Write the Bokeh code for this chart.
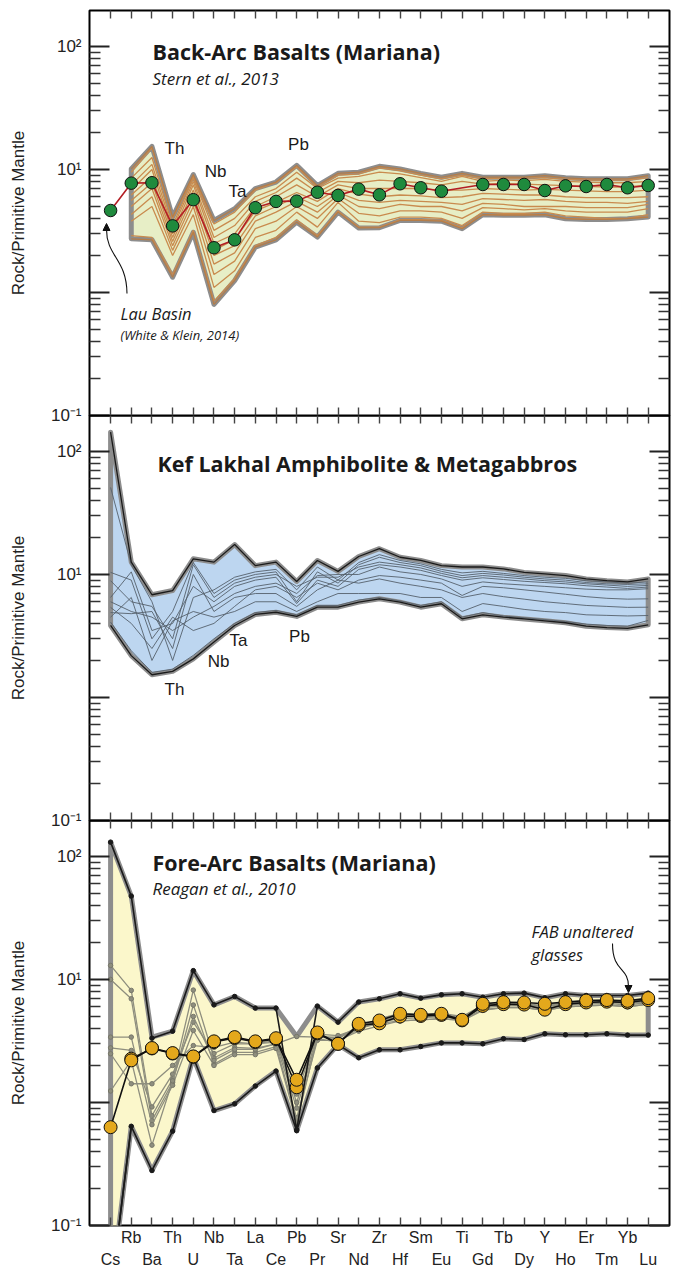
import math
from bokeh.plotting import figure
from bokeh.models import Range1d, LogAxis, LinearAxis, FixedTicker, Label, Arrow, NormalHead
from bokeh.layouts import column
from bokeh.embed import file_html
from bokeh.resources import INLINE

# ---------------- data ----------------
elements = ["Cs", "Rb", "Ba", "Th", "U", "Nb", "Ta", "La", "Ce", "Pb", "Pr", "Sr", "Nd", "Zr",
            "Hf", "Sm", "Eu", "Ti", "Gd", "Tb", "Dy", "Y", "Ho", "Er", "Tm", "Yb", "Lu"]
idx = list(range(len(elements)))

# Panel 1: Back-arc basalts (Mariana), Stern et al. 2013
bab_upper = [None, 10.1, 15.4, 4.1, 9.1, 3.85, 4.8, 7.0, 7.9, 10.8, 7.4, 9.3, 9.5, 10.6, 10.1, 9.3,
             8.65, 9.3, 8.65, 8.65, 8.65, 8.9, 8.55, 8.4, 8.4, 8.4, 8.9]
bab_lower = [None, 2.73, 2.68, 1.33, 3.09, 0.80, 1.25, 2.34, 2.68, 3.73, 2.82, 4.5, 3.35, 3.36, 3.85,
             3.85, 3.8, 3.3, 4.29, 4.25, 4.25, 4.29, 3.98, 3.92, 3.92, 3.98, 4.1]
bab_samples = [
    [None, 9.5, 15.0, 4.0, 8.8, 3.6, 4.5, 6.8, 7.8, 10.5, 7.2, 9.0, 9.2, 10.3, 9.8, 9.0, 8.4, 9.0, 8.4, 8.5, 8.5, 8.6, 8.3, 8.2, 8.2, 8.2, 8.6],
    [None, 8.5, 12.5, 3.5, 8.5, 3.2, 4.0, 6.0, 7.0, 9.5, 7.0, 8.5, 8.8, 9.5, 9.2, 8.6, 8.0, 8.8, 8.0, 8.2, 8.1, 8.3, 8.0, 7.9, 7.8, 7.8, 8.0],
    [None, 7.5, 11.0, 3.3, 8.0, 2.8, 3.5, 5.5, 6.5, 8.5, 6.5, 8.0, 7.8, 8.2, 8.0, 7.8, 7.5, 8.0, 7.6, 7.7, 7.6, 7.5, 7.4, 7.3, 7.2, 7.2, 7.5],
    [None, 6.8, 10.0, 3.0, 7.5, 2.5, 3.0, 5.0, 6.0, 7.5, 6.0, 7.5, 7.0, 7.0, 7.0, 7.0, 6.8, 6.8, 7.0, 6.9, 6.8, 6.9, 6.8, 6.7, 6.6, 6.6, 6.8],
    [None, 6.2, 8.8, 2.8, 6.8, 2.2, 2.7, 4.6, 5.4, 6.5, 5.5, 7.0, 6.3, 6.0, 6.2, 6.1, 5.9, 6.0, 6.4, 6.3, 6.2, 6.2, 6.0, 5.9, 5.9, 5.9, 6.0],
    [None, 5.6, 7.8, 2.6, 6.2, 2.0, 2.4, 4.2, 5.0, 6.0, 5.0, 6.5, 5.6, 5.4, 5.6, 5.5, 5.4, 5.2, 5.8, 5.7, 5.6, 5.7, 5.5, 5.4, 5.4, 5.3, 5.5],
    [None, 5.0, 7.0, 2.4, 5.6, 1.7, 2.1, 3.8, 4.5, 5.5, 4.5, 6.2, 5.0, 4.8, 5.2, 5.0, 5.0, 4.6, 5.3, 5.2, 5.0, 5.0, 5.0, 4.9, 4.9, 4.9, 5.2],
    [None, 4.3, 6.0, 2.2, 5.0, 1.4, 1.8, 3.3, 3.8, 5.0, 4.0, 5.8, 4.4, 4.2, 4.6, 4.6, 4.5, 4.0, 4.9, 4.8, 4.7, 4.8, 4.6, 4.5, 4.5, 4.5, 4.8],
    [None, 3.8, 5.0, 2.0, 4.3, 1.1, 1.5, 2.8, 3.2, 4.5, 3.4, 5.4, 3.8, 3.7, 4.1, 4.1, 4.0, 3.5, 4.5, 4.4, 4.4, 4.5, 4.2, 4.1, 4.0, 4.0, 4.3],
    [None, 2.9, 2.8, 1.4, 3.2, 0.85, 1.3, 2.4, 2.8, 3.9, 2.9, 4.6, 3.4, 3.4, 3.9, 3.9, 3.85, 3.35, 4.3, 4.3, 4.3, 4.3, 4.0, 3.95, 3.95, 4.0, 4.1],
]
# Lau Basin (White & Klein, 2014) - no Ti value
lau_basin = [4.64, 7.74, 7.8, 3.48, 5.68, 2.31, 2.68, 4.89, 5.5, 5.53, 6.53, 6.15, 6.92, 6.22, 7.65,
             7.1, 6.66, None, 7.55, 7.55, 7.55, 6.74, 7.36, 7.27, 7.55, 7.1, 7.41]

# Panel 2: Kef Lakhal amphibolite & metagabbros
kl_upper = [143.5, 12.6, 6.84, 7.4, 13.4, 12.6, 17.5, 11.8, 12.6, 8.77, 13.0, 10.6, 14.0, 16.2, 13.8,
            13.0, 11.8, 11.5, 11.5, 11.1, 10.4, 10.1, 9.8, 9.2, 8.9, 8.7, 9.2]
kl_lower = [3.85, 2.19, 1.53, 1.63, 2.06, 2.82, 3.85, 4.73, 4.93, 4.56, 5.42, 5.42, 5.96, 6.34, 5.96,
            5.42, 5.78, 4.36, 4.7, 4.5, 4.35, 4.2, 4.05, 3.8, 3.7, 3.65, 3.9]
kl_samples = [
    [51.0, 12.0, 6.0, 2.0, 6.5, 7.5, 9.5, 10.5, 11.0, 7.5, 11.5, 9.0, 12.5, 14.5, 13.0, 12.2, 11.0, 10.3, 10.6, 10.2, 9.8, 9.5, 9.3, 8.9, 8.7, 8.5, 8.7],
    [10.4, 9.0, 3.0, 5.0, 12.5, 7.0, 9.0, 10.0, 10.5, 6.0, 10.5, 8.5, 12.0, 13.8, 12.5, 11.8, 10.6, 9.8, 10.2, 9.9, 9.5, 9.2, 9.0, 8.6, 8.4, 8.3, 8.4],
    [8.9, 6.0, 5.5, 3.0, 12.0, 6.5, 8.5, 9.5, 10.0, 8.0, 9.5, 9.5, 11.5, 12.6, 12.0, 11.3, 10.2, 9.4, 9.8, 9.5, 9.2, 8.9, 8.7, 8.4, 8.2, 8.0, 8.15],
    [6.5, 10.5, 3.5, 4.0, 8.0, 6.0, 8.0, 9.0, 9.5, 5.8, 9.0, 8.0, 11.0, 12.0, 11.5, 10.8, 9.8, 9.0, 9.4, 9.1, 8.8, 8.6, 8.4, 8.1, 7.9, 7.7, 7.9],
    [6.0, 5.0, 4.5, 3.5, 4.5, 5.5, 7.0, 8.0, 8.5, 7.0, 9.8, 10.0, 10.0, 11.5, 10.5, 10.0, 9.2, 8.0, 8.7, 8.4, 8.2, 8.0, 7.8, 7.6, 7.5, 7.5, 7.66],
    [5.4, 4.0, 2.5, 4.5, 3.5, 4.0, 5.5, 7.5, 8.0, 6.5, 8.5, 7.5, 9.0, 9.8, 9.5, 9.0, 8.5, 6.75, 8.0, 7.8, 7.5, 7.2, 6.9, 6.6, 6.4, 6.3, 6.34],
    [4.9, 4.8, 5.0, 2.5, 10.0, 5.0, 6.5, 7.0, 7.0, 5.5, 7.5, 9.0, 8.5, 9.2, 8.5, 8.0, 7.5, 6.5, 7.0, 6.6, 6.3, 6.0, 5.8, 5.6, 5.5, 5.4, 5.42],
    [4.5, 6.5, 2.0, 4.2, 5.0, 4.5, 5.0, 6.0, 6.0, 5.0, 6.0, 7.0, 7.0, 7.0, 7.0, 6.5, 6.5, 5.0, 5.8, 5.5, 5.2, 5.0, 4.9, 4.7, 4.65, 4.6, 4.64],
    [4.1, 2.4, 1.6, 1.7, 2.2, 3.0, 4.0, 4.9, 5.1, 4.7, 5.6, 5.6, 6.2, 6.5, 6.1, 5.6, 6.0, 4.5, 4.9, 4.6, 4.45, 4.3, 4.15, 3.95, 3.85, 3.8, 4.23],
]

# Panel 3: Fore-arc basalts (Mariana), Reagan et al. 2010
fab_upper = [130.7, 47.6, 3.4, 3.8, 11.8, 6.22, 7.27, 5.85, 5.85, 3.44, 6.07, 4.5, 6.55, 6.97, 7.65,
             7.05, 7.5, 7.65, 7.18, 7.65, 7.74, 7.1, 7.65, 7.41, 7.41, 7.41, 7.74]
fab_lower = [0.028, 0.64, 0.28, 0.585, 2.33, 0.86, 0.975, 1.36, 1.8, 0.59, 1.91, 2.95, 2.31, 2.68, 2.68,
             2.85, 3.05, 3.05, 3.0, 3.3, 3.25, 3.62, 3.55, 3.55, 3.62, 3.53, 3.53]
fab_high_sample = [130.7, 47.6, 3.33, 3.8, 11.8, 6.22, 7.27, 5.85, 5.85, 0.6, 6.07, 4.5, 6.55, 6.97, 7.65,
                   7.05, 7.5, 7.65, 7.18, 7.65, 7.74, 7.1, 7.65, 7.41, 7.41, 7.41, 7.74]
fab_low_sample = fab_lower
fab_samples = [
    [13.0, 8.15, 0.78, 1.55, 8.2, 2.3, 2.8, 2.75, 3.0, 0.9, 3.3, 3.1, 4.0, 4.5, 4.8, 4.9, 5.0, 4.8, 5.9, 6.1, 6.1, 5.8, 6.2, 6.3, 6.4, 6.2, 6.5],
    [10.0, 6.97, 0.71, 1.46, 6.2, 2.05, 2.55, 2.55, 2.85, 0.75, 3.2, 3.2, 3.8, 4.2, 4.6, 4.7, 4.8, 4.7, 5.7, 5.9, 5.9, 5.6, 6.0, 6.1, 6.2, 6.0, 6.3],
    [3.4, 3.4, 0.66, 1.38, 3.85, 2.0, 2.45, 2.45, 2.75, 0.68, 3.4, 3.4, 4.1, 4.8, 5.3, 5.2, 5.3, 5.0, 6.2, 6.4, 6.4, 6.1, 6.5, 6.6, 6.7, 6.6, 6.9],
    [2.78, 2.65, 0.92, 1.7, 4.5, 2.5, 3.0, 3.0, 3.2, 1.0, 3.5, 3.3, 4.2, 4.6, 5.0, 5.0, 5.0, 4.8, 6.0, 6.2, 6.2, 6.0, 6.3, 6.4, 6.5, 6.4, 6.6],
    [2.49, 1.42, 1.42, 2.0, 2.9, 2.8, 3.1, 3.0, 3.1, 1.17, 3.6, 3.5, 4.0, 4.4, 4.6, 4.7, 4.8, 4.6, 5.6, 5.9, 5.9, 5.6, 6.0, 6.1, 6.2, 6.0, 6.3],
    [1.24, 2.2, 0.45, 1.5, 5.0, 2.2, 2.7, 2.7, 3.0, 3.44, 3.4, 3.3, 4.1, 4.7, 5.1, 5.1, 5.2, 4.9, 6.1, 6.3, 6.3, 6.0, 6.4, 6.5, 6.6, 6.5, 6.8],
]
fab_glass_a = [0.63, 2.2, 2.77, 2.52, 2.37, 3.14, 3.4, 3.14, 3.33, 1.53, 3.71, 3.0, 4.36, 4.64, 5.26,
               5.16, 5.26, 4.7, 6.34, 6.54, 6.5, 6.34, 6.54, 6.74, 6.8, 6.7, 7.05]
fab_glass_b = [None, 2.27, 2.75, 2.5, 2.35, 3.1, 3.35, 3.1, 3.28, 1.33, 3.65, 3.0, 4.25, 4.4, 5.0,
               5.05, 5.15, 4.65, 6.1, 6.3, 6.25, 5.68, 6.3, 6.5, 6.6, 6.5, 6.8]

y_tick_values = [0.1, 1, 10, 100]
y_tick_labels = ["10\u207b\u00b9", "", "10\u00b9", "10\u00b2"]

# ---------------- layout constants ----------------
Y_LO, Y_HI = 0.1, 196.0
X_LO, X_HI = -1.02, 27.03
FRAME_H = 405
LEFT = 89
FRAME_W = 580
W = LEFT + FRAME_W + 3
DEC = FRAME_H / (math.log10(Y_HI) - math.log10(Y_LO))
XSTEP = FRAME_W / (X_HI - X_LO)
MINORS = [m * 10 ** e for e in (-1, 0, 1, 2) for m in range(2, 10) if m * 10 ** e < Y_HI]
LABEL_FONT = "Liberation Sans"
TITLE_FONT = "Open Sans"


def px_x(px):
    return X_LO + (px - LEFT) / XSTEP


def px_y(py, top):
    return 10 ** (math.log10(Y_HI) - (py - top) / DEC)


def pts(vals):
    xs, ys = [], []
    for i, v in zip(idx, vals):
        if v is not None:
            xs.append(i)
            ys.append(v)
    return xs, ys


def band(p, upper, lower, fill):
    xu, yu = pts(upper)
    xl, yl = pts(lower)
    p.patch(xu + xl[::-1], yu + yl[::-1], fill_color=fill, line_color="#8d8d8d",
            line_width=5, line_join="round")


def make_panel(height, border_top, border_bottom, margin_top, xlabels=False):
    p = figure(width=W, height=height, x_range=Range1d(X_LO, X_HI), y_range=Range1d(Y_LO, Y_HI),
               y_axis_type="log", x_axis_location=None, y_axis_location=None,
               output_backend="svg", toolbar_location=None,
               min_border_left=LEFT, min_border_right=3, min_border_top=border_top,
               min_border_bottom=border_bottom, background_fill_alpha=0, border_fill_alpha=0,
               outline_line_color="black", outline_line_width=2, margin=(margin_top, 0, 0, 0))
    p.grid.visible = False
    yt = FixedTicker(ticks=y_tick_values, minor_ticks=MINORS)
    left = LogAxis(ticker=yt, axis_label="Rock/Primitive Mantle",
                   major_label_overrides=dict(zip(y_tick_values, y_tick_labels)),
                   major_tick_in=20, major_tick_out=0, minor_tick_in=11, minor_tick_out=0,
                   major_tick_line_width=2, minor_tick_line_width=1.3,
                   major_tick_line_color="#222", minor_tick_line_color="#333",
                   axis_line_color=None, major_label_standoff=8,
                   major_label_text_font=LABEL_FONT, major_label_text_font_size="17px",
                   major_label_text_color="#222",
                   axis_label_text_font=LABEL_FONT, axis_label_text_font_size="17px",
                   axis_label_text_font_style="normal", axis_label_text_color="#222",
                   axis_label_standoff=20)
    p.add_layout(left, "left")
    right = LogAxis(ticker=FixedTicker(ticks=y_tick_values, minor_ticks=MINORS),
                    major_label_overrides={v: "" for v in y_tick_values},
                    major_tick_in=20, major_tick_out=0, minor_tick_in=11, minor_tick_out=0,
                    major_tick_line_width=2, minor_tick_line_width=1.3,
                    major_tick_line_color="#222", minor_tick_line_color="#333",
                    axis_line_color=None, major_label_standoff=0,
                    major_label_text_font_size="0px")
    p.add_layout(right, "right")
    top = LinearAxis(ticker=FixedTicker(ticks=idx), major_tick_in=8, major_tick_out=0,
                     minor_tick_line_color=None,
                     major_tick_line_color="#444", major_tick_line_width=1.4,
                     axis_line_color=None, major_label_standoff=0,
                     major_label_overrides={i: "" for i in idx}, major_label_text_font_size="0px")
    p.add_layout(top, "above")
    if xlabels:
        row1 = LinearAxis(ticker=FixedTicker(ticks=idx), major_tick_in=8, major_tick_out=0,
                          minor_tick_line_color=None, major_tick_line_color="#444",
                          major_tick_line_width=1.4, axis_line_color=None, major_label_standoff=3,
                          major_label_overrides={i: (e if i % 2 == 1 else "") for i, e in zip(idx, elements)},
                          major_label_text_font=LABEL_FONT, major_label_text_font_size="16px",
                          major_label_text_color="#222")
        p.add_layout(row1, "below")
        row2 = LinearAxis(ticker=FixedTicker(ticks=idx), major_tick_in=0, major_tick_out=0,
                          minor_tick_line_color=None, major_tick_line_color=None,
                          axis_line_color=None, major_label_standoff=2,
                          major_label_overrides={i: (e if i % 2 == 0 else "") for i, e in zip(idx, elements)},
                          major_label_text_font=LABEL_FONT, major_label_text_font_size="16px",
                          major_label_text_color="#222")
        p.add_layout(row2, "below")
    else:
        bottom = LinearAxis(ticker=FixedTicker(ticks=idx), major_tick_in=8, major_tick_out=0,
                            minor_tick_line_color=None, major_tick_line_color="#444",
                            major_tick_line_width=1.4, axis_line_color=None, major_label_standoff=0,
                            major_label_overrides={i: "" for i in idx},
                            major_label_text_font_size="0px")
        p.add_layout(bottom, "below")
    return p


def text(p, s, x, y, size, style="normal", font=LABEL_FONT, align="left"):
    p.add_layout(Label(x=x, y=y, text=s, text_font=font, text_font_size=size,
                       text_font_style=style, text_color="#1a1a1a", text_align=align,
                       text_baseline="middle"))


# ---------------- panel 1 ----------------
T1, T2, T3 = 10, 415, 820
p1 = make_panel(FRAME_H + 10 + 10, 10, 10, 0)
band(p1, bab_upper, bab_lower, "#e7eec6")
for s in bab_samples:
    x, y = pts(s)
    p1.line(x, y, line_color="#c98b4e", line_width=1.3)
for edge in (bab_upper, bab_lower):
    x, y = pts(edge)
    p1.line(x, y, line_color="#b57d48", line_width=1.2)
x, y = pts(lau_basin)
p1.line(x, y, line_color="#b31e24", line_width=1.6)
p1.scatter(x, y, size=12.5, fill_color="#1f8a3d", line_color="#111", line_width=1)

text(p1, "Back-Arc Basalts (Mariana)", px_x(152), px_y(51, T1), "21.5px", "bold", TITLE_FONT)
text(p1, "Stern et al., 2013", px_x(152), px_y(78, T1), "17px", "italic", TITLE_FONT)
for s, cx, cy in (("Th", 174, 148), ("Nb", 215, 171), ("Ta", 237, 191), ("Pb", 298, 144)):
    text(p1, s, px_x(cx), px_y(cy, T1), "17px", align="center")
text(p1, "Lau Basin", px_x(120), px_y(313, T1), "16.5px", "italic", TITLE_FONT)
text(p1, "(White & Klein, 2014)", px_x(120), px_y(334, T1), "13px", "italic", TITLE_FONT)
p1.bezier(x0=[px_x(126.5)], y0=[px_y(293, T1)], x1=[px_x(106)], y1=[px_y(229, T1)],
          cx0=[px_x(126)], cy0=[px_y(258, T1)], cx1=[px_x(106)], cy1=[px_y(256, T1)],
          line_color="#111", line_width=1.1)
p1.add_layout(Arrow(end=NormalHead(size=7, fill_color="#111", line_color="#111"),
                    x_start=px_x(106), y_start=px_y(232, T1), x_end=px_x(106), y_end=px_y(223, T1),
                    line_color=None))

# ---------------- panel 2 ----------------
p2 = make_panel(FRAME_H + 10, 0, 10, -10)
band(p2, kl_upper, kl_lower, "#bdd6f0")
for s in kl_samples:
    p2.line(idx, s, line_color="#56616c", line_width=0.9)
for edge in (kl_upper, kl_lower):
    p2.line(idx, edge, line_color="#1a1a1a", line_width=1.3)
text(p2, "Kef Lakhal Amphibolite & Metagabbros", px_x(157), px_y(463, T2), "21.5px", "bold", TITLE_FONT)
for s, cx, cy in (("Th", 174, 689), ("Nb", 218, 661), ("Ta", 238, 640), ("Pb", 299, 636)):
    text(p2, s, px_x(cx), px_y(cy, T2), "17px", align="center")

# ---------------- panel 3 ----------------
p3 = make_panel(FRAME_H + 60, 0, 60, -10, xlabels=True)
band(p3, fab_upper, fab_lower, "#fbf7cb")
for s in fab_samples:
    p3.line(idx, s, line_color="#8e8e7e", line_width=1.3)
    p3.scatter(idx, s, size=4.5, fill_color="#8e8e7e", line_color="#77776a")
for s in (fab_high_sample, fab_low_sample):
    p3.line(idx, s, line_color="#1a1a1a", line_width=1.6)
    p3.scatter(idx, s, size=4.5, fill_color="#1a1a1a", line_color="#1a1a1a")
p3.add_layout(Arrow(end=None, x_start=1, y_start=fab_low_sample[1], x_end=0, y_end=fab_low_sample[0],
                    line_color="#1a1a1a", line_width=1.6))
for s in (fab_glass_b, fab_glass_a):
    x, y = pts(s)
    p3.line(x, y, line_color="#111", line_width=1.6)
    p3.scatter(x, y, size=13, fill_color="#e4a81c", line_color="#111", line_width=1)
text(p3, "Fore-Arc Basalts (Mariana)", px_x(152), px_y(862, T3), "21.5px", "bold", TITLE_FONT)
text(p3, "Reagan et al., 2010", px_x(152), px_y(888, T3), "17px", "italic", TITLE_FONT)
text(p3, "FAB unaltered", px_x(531), px_y(931, T3), "16.5px", "italic", TITLE_FONT)
text(p3, "glasses", px_x(531), px_y(954, T3), "16.5px", "italic", TITLE_FONT)
p3.bezier(x0=[px_x(612)], y0=[px_y(943, T3)], x1=[px_x(628)], y1=[px_y(986, T3)],
          cx0=[px_x(612)], cy0=[px_y(972, T3)], cx1=[px_x(628)], cy1=[px_y(966, T3)],
          line_color="#111", line_width=1.1)
p3.add_layout(Arrow(end=NormalHead(size=7, fill_color="#111", line_color="#111"),
                    x_start=px_x(628), y_start=px_y(983, T3), x_end=px_x(628), y_end=px_y(992, T3),
                    line_color=None))

layout = column(p1, p2, p3, spacing=0)
open("out.html", "w").write(file_html(layout, INLINE))
